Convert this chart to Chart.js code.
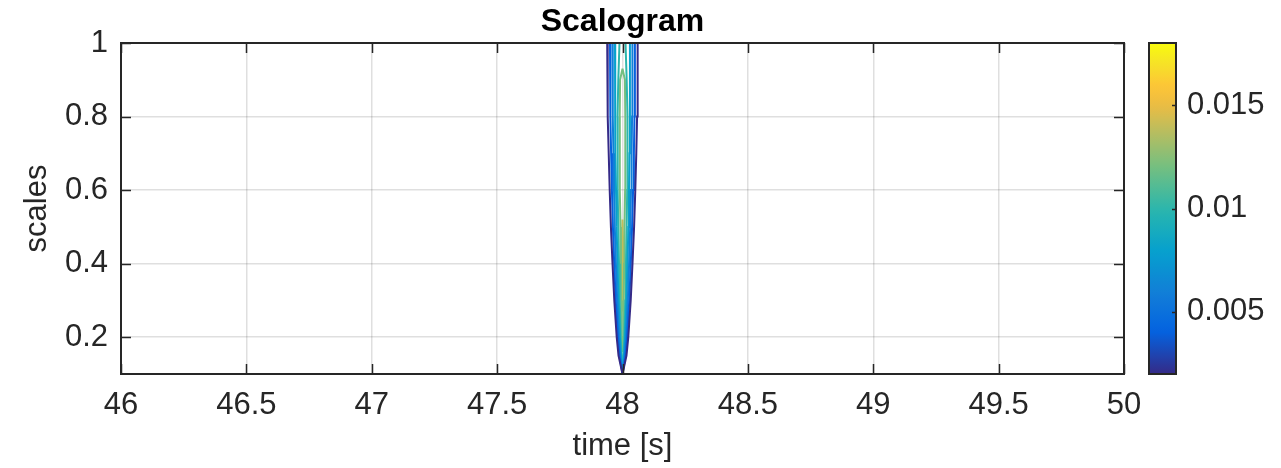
<!DOCTYPE html>
<html><head><meta charset="utf-8">
<script src="https://cdn.jsdelivr.net/npm/chart.js@4/dist/chart.umd.min.js"></script>
<style>html,body{margin:0;padding:0;background:#fff;overflow:hidden}</style>
</head><body>
<canvas id="c" width="1281" height="468" style="display:block;width:1281px;height:468px"></canvas>
<script>
// ---- data ----
const chartTitle = 'Scalogram';
const xLabel = 'time [s]';
const yLabel = 'scales';
const xTicks = [46, 46.5, 47, 47.5, 48, 48.5, 49, 49.5, 50];
const yTicks = [0.2, 0.4, 0.6, 0.8, 1];
const cbTicks = [0.005, 0.01, 0.015];
const cbMin = 0.002, cbMax = 0.018;
const centerTime = 48;                 // contours converge at t = 48 s
const contourLevels = [0.002, 0.004, 0.006, 0.008, 0.010, 0.012, 0.014];
// scale samples and half-widths (seconds) of each contour around t = 48
const scalesFull = [1.0, 0.9, 0.8, 0.7, 0.6, 0.5, 0.4, 0.3, 0.2, 0.15, 0.1];
const hw002 = [0.0610, 0.0598, 0.0582, 0.0550, 0.0510, 0.0462, 0.0398, 0.0327, 0.0231, 0.0159, 0];
const hw004 = [0.0498, 0.0490, 0.0478, 0.0454, 0.0422, 0.0382, 0.0331, 0.0271, 0.0183, 0.0120, 0];
const hw006 = [0.0398, 0.0394, 0.0382, 0.0363, 0.0339, 0.0307, 0.0263, 0.0211, 0.0143, 0.0088, 0];
const hw008 = [0.0299, 0.0299, 0.0291, 0.0279, 0.0259, 0.0235, 0.0199, 0.0159, 0.0104, 0.0060, 0];
const hw010 = [0.0120, 0.0167, 0.0199, 0.0199, 0.0187, 0.0167, 0.0139, 0.0112, 0.0072, 0.0040, 0];
const scales012 = [0.93, 0.9, 0.8, 0.7, 0.6, 0.5, 0.4, 0.3, 0.2, 0.16];
const hw012 = [0, 0.0096, 0.0112, 0.0112, 0.0104, 0.0080, 0.0064, 0.0052, 0.0032, 0];
const scales014 = [0.52, 0.45, 0.4, 0.35, 0.3, 0.27];
const hw014 = [0, 0.0024, 0.0032, 0.0028, 0.0020, 0];

const contourScales = [scalesFull, scalesFull, scalesFull, scalesFull, scalesFull, scales012, scales014];
const contourHalfWidths = [hw002, hw004, hw006, hw008, hw010, hw012, hw014];

// ---- parula colormap ----
const parulaStops = [
  [0.00, 53, 42, 135], [0.13, 3, 99, 225], [0.24, 18, 125, 216], [0.37, 6, 160, 206],
  [0.49, 39, 181, 175], [0.62, 113, 191, 130], [0.75, 196, 189, 89], [0.81, 234, 188, 67],
  [0.87, 253, 197, 55], [0.94, 245, 227, 39], [1.00, 249, 251, 14]
];
function parula(t) {
  t = Math.max(0, Math.min(1, t));
  for (let i = 1; i < parulaStops.length; i++) {
    const a = parulaStops[i - 1], b = parulaStops[i];
    if (t <= b[0]) {
      const f = (t - a[0]) / (b[0] - a[0]);
      const c = [1, 2, 3].map(k => Math.round(a[k] + f * (b[k] - a[k])));
      return `rgb(${c[0]},${c[1]},${c[2]})`;
    }
  }
  return 'rgb(249,251,14)';
}

const FONT = "'Liberation Sans', Arial, Helvetica, sans-serif";
const TXT = '#262626';

const datasets = contourLevels.map((lev, i) => {
  const sc = contourScales[i], hw = contourHalfWidths[i];
  const pts = [];
  for (let k = 0; k < sc.length; k++) pts.push({ x: centerTime - hw[k], y: sc[k] });
  for (let k = sc.length - 1; k >= 0; k--) pts.push({ x: centerTime + hw[k], y: sc[k] });
  return {
    label: String(lev), data: pts, showLine: true, fill: false,
    borderColor: parula((lev - cbMin) / (cbMax - cbMin)), borderWidth: 2,
    pointRadius: 0, tension: 0, yAxisID: 'y', xAxisID: 'x'
  };
});

const framePlugin = {
  id: 'frame',
  afterDraw(chart) {
    const { ctx, chartArea: a } = chart;
    const xs = chart.scales.x, ys = chart.scales.y, cb = chart.scales.cb;
    ctx.save();
    // title
    ctx.fillStyle = '#000';
    ctx.font = `bold 32px ${FONT}`;
    ctx.textAlign = 'center';
    ctx.textBaseline = 'middle';
    ctx.fillText(chartTitle, (a.left + a.right) / 2, 22);
    // box
    ctx.strokeStyle = TXT;
    ctx.lineWidth = 2;
    ctx.strokeRect(a.left, a.top, a.right - a.left, a.bottom - a.top);
    // inward ticks
    ctx.lineWidth = 1.5;
    const tl = 10;
    ctx.beginPath();
    xTicks.forEach(v => {
      const px = Math.round(xs.getPixelForValue(v)) + 0.5;
      ctx.moveTo(px, a.bottom); ctx.lineTo(px, a.bottom - tl);
      ctx.moveTo(px, a.top); ctx.lineTo(px, a.top + tl);
    });
    yTicks.forEach(v => {
      const py = Math.round(ys.getPixelForValue(v)) + 0.5;
      ctx.moveTo(a.left, py); ctx.lineTo(a.left + tl, py);
      ctx.moveTo(a.right, py); ctx.lineTo(a.right - tl, py);
    });
    ctx.stroke();
    // colorbar
    const cbL = 1149, cbR = 1176;
    const g = ctx.createLinearGradient(0, a.bottom, 0, a.top);
    for (let i = 0; i <= 40; i++) g.addColorStop(i / 40, parula(i / 40));
    ctx.fillStyle = g;
    ctx.fillRect(cbL, a.top, cbR - cbL, a.bottom - a.top);
    ctx.lineWidth = 2;
    ctx.strokeStyle = TXT;
    ctx.strokeRect(cbL, a.top, cbR - cbL, a.bottom - a.top);
    ctx.lineWidth = 1.5;
    ctx.beginPath();
    cbTicks.forEach(v => {
      const py = Math.round(cb.getPixelForValue(v)) + 0.5;
      ctx.moveTo(cbR, py); ctx.lineTo(cbR - 4, py);
    });
    ctx.stroke();
    ctx.restore();
  }
};

new Chart(document.getElementById('c'), {
  type: 'scatter',
  data: { datasets },
  options: {
    responsive: false, animation: false, devicePixelRatio: 1,
    layout: { padding: { top: 43, left: 0, right: 0, bottom: 0 } },
    plugins: { legend: { display: false }, tooltip: { enabled: false }, title: { display: false } },
    scales: {
      x: {
        type: 'linear', position: 'bottom', min: 46, max: 50,
        afterBuildTicks: s => { s.ticks = xTicks.map(v => ({ value: v })); },
        afterFit: s => { s.height = 94; s.paddingLeft = 0; s.paddingRight = 0; },
        grid: { color: 'rgba(38,38,38,0.15)', lineWidth: 1.5, drawTicks: false },
        border: { display: false },
        ticks: { padding: 13, color: TXT, font: { family: FONT, size: 31 }, maxRotation: 0, callback: v => String(v) },
        title: { display: true, text: xLabel, color: TXT, font: { family: FONT, size: 31 }, padding: { top: 0, bottom: 3 } }
      },
      y: {
        type: 'linear', position: 'left', min: 0.1, max: 1,
        afterBuildTicks: s => { s.ticks = yTicks.map(v => ({ value: v })); },
        afterFit: s => { s.width = 121; s.paddingTop = 0; s.paddingBottom = 0; },
        grid: { color: 'rgba(38,38,38,0.15)', lineWidth: 1.5, drawTicks: false },
        border: { display: false },
        ticks: { padding: 13, color: TXT, font: { family: FONT, size: 31 }, callback: v => (v === 1 ? '1' : v.toFixed(1)) },
        title: { display: true, text: yLabel, color: TXT, font: { family: FONT, size: 31 }, padding: { top: 19, bottom: 0 } }
      },
      cb: {
        type: 'linear', position: 'right', min: cbMin, max: cbMax,
        afterBuildTicks: s => { s.ticks = cbTicks.map(v => ({ value: v })); },
        afterFit: s => { s.width = 157; s.paddingTop = 0; s.paddingBottom = 0; },
        grid: { display: false, drawTicks: false },
        border: { display: false },
        ticks: { padding: 63, color: TXT, font: { family: FONT, size: 31 }, callback: v => String(parseFloat(v.toFixed(4))) }
      }
    }
  },
  plugins: [framePlugin]
});
</script>
</body></html>
